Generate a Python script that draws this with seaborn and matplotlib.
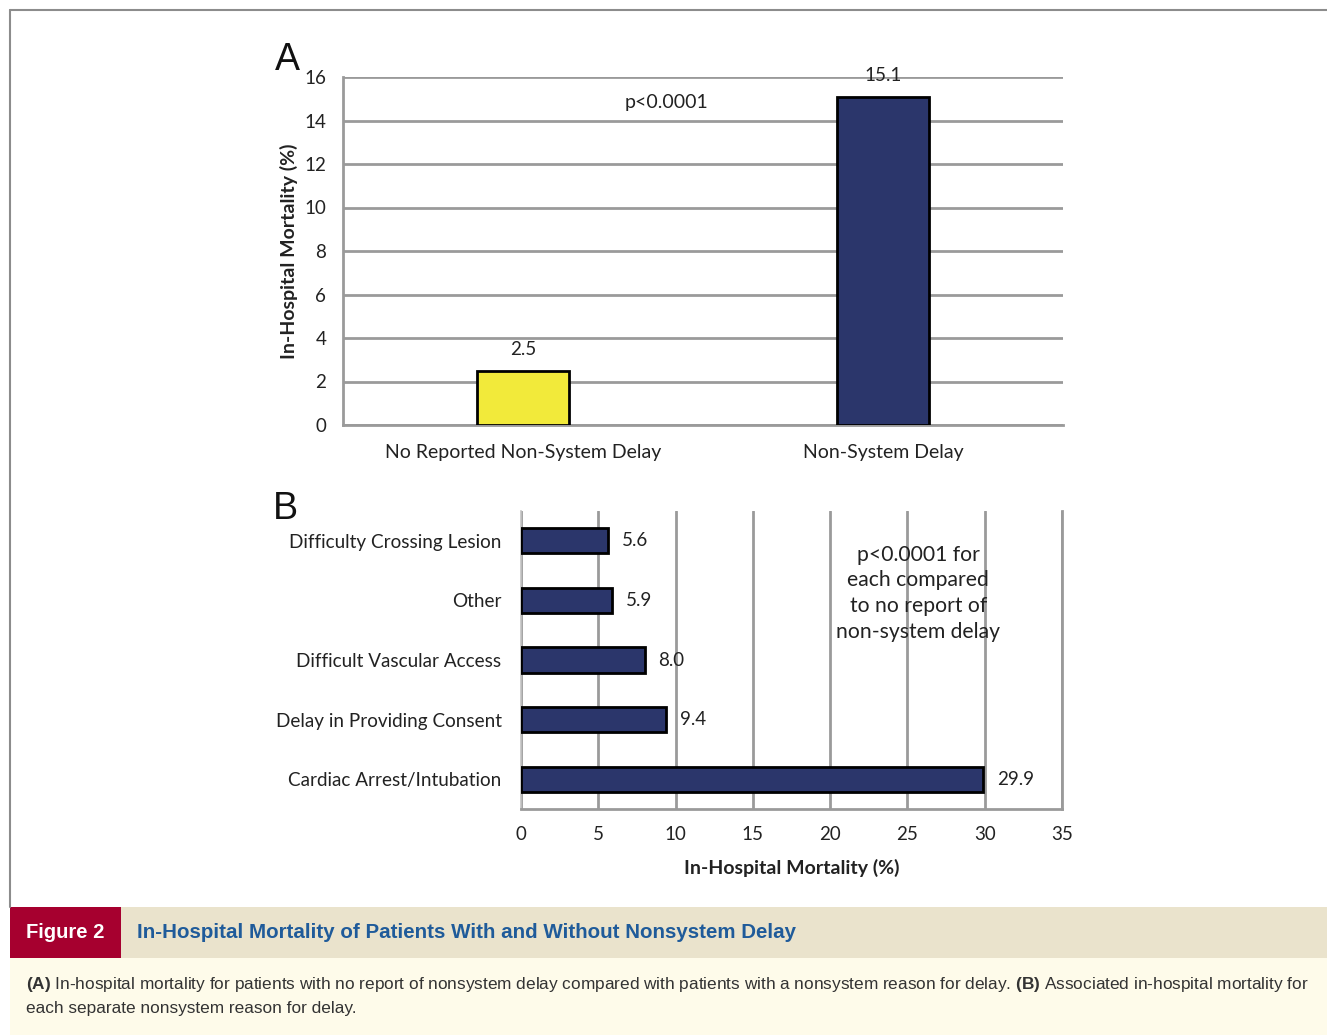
import matplotlib
matplotlib.use("Agg")
import matplotlib.pyplot as plt
import seaborn as sns
import pandas as pd
import numpy as np
from matplotlib.patches import Rectangle
from matplotlib.lines import Line2D

# ---- data ----
cats_a = ["No Reported Non-System Delay", "Non-System Delay"]
vals_a = [2.5, 15.1]
cats_b = ["Difficulty Crossing Lesion", "Other", "Difficult Vascular Access",
          "Delay in Providing Consent", "Cardiac Arrest/Intubation"]
vals_b = [5.6, 5.9, 8.0, 9.4, 29.9]
yticks_a = [0, 2, 4, 6, 8, 10, 12, 14, 16]
xticks_b = [0, 5, 10, 15, 20, 25, 30, 35]

YELLOW = "#F2EA3A"
NAVY = "#2B366B"
GRID = "#9A9A9A"

sns.set_style("white")
plt.rcParams["font.family"] = ["Lato", "DejaVu Sans"]
plt.rcParams["mathtext.fontset"] = "custom"
plt.rcParams["mathtext.rm"] = "Liberation Sans"
plt.rcParams["mathtext.bf"] = "Liberation Sans:bold"

W, H = 1327, 1035
fig = plt.figure(figsize=(W / 100, H / 100), dpi=100)
fig.patch.set_facecolor("white")

def fx(px):
    return px / W

def fy(py):
    return 1 - py / H

# ---- Panel A ----
axA = fig.add_axes([fx(343), fy(425), fx(1063) - fx(343), fy(77) - fy(425)])
dfa = pd.DataFrame({"cat": cats_a, "val": vals_a})
sns.barplot(data=dfa, x="cat", y="val", hue="cat", palette=[YELLOW, NAVY],
            legend=False, width=0.255, saturation=1, edgecolor="black",
            linewidth=2, ax=axA, zorder=3)
axA.set_ylim(0, 16)
axA.set_xlim(-0.5, 1.5)
axA.set_yticks(yticks_a)
axA.set_yticklabels([str(v) for v in yticks_a], fontsize=13.5, color="#222222")
axA.yaxis.grid(True, color=GRID, lw=2)
axA.set_axisbelow(True)
for s in ["top", "right"]:
    axA.spines[s].set_visible(False)
axA.spines["left"].set_color(GRID)
axA.spines["left"].set_linewidth(2)
axA.spines["bottom"].set_color(GRID)
axA.spines["bottom"].set_linewidth(2)
axA.tick_params(axis="y", length=6, width=2, color=GRID, pad=6)
axA.tick_params(axis="x", length=0, pad=14, labelsize=14, labelcolor="#222222")
axA.set_xlabel("")
axA.set_ylabel("In-Hospital Mortality (%)", fontsize=14, fontweight="bold",
               color="#222222", labelpad=5)
for c in axA.containers:
    axA.bar_label(c, fmt="%.1f", padding=9, fontsize=13.5, color="#222222")
axA.text(0.4, 14.85, "p<0.0001", ha="center", va="center", fontsize=14,
         color="#222222")
fig.text(fx(287), fy(60), "A", ha="center", va="center", fontsize=27,
         family=["Liberation Sans", "DejaVu Sans"], color="#111111")

# ---- Panel B ----
axB = fig.add_axes([fx(521), fy(809), fx(1062) - fx(521), fy(511) - fy(809)])
dfb = pd.DataFrame({"cat": cats_b, "val": vals_b})
sns.barplot(data=dfb, y="cat", x="val", orient="h", color=NAVY, saturation=1,
            width=0.42, edgecolor="black", linewidth=2, ax=axB, zorder=3)
axB.set_xlim(0, 35)
axB.set_ylim(4.5, -0.5)
axB.set_xticks(xticks_b)
axB.set_xticklabels([str(v) for v in xticks_b], fontsize=13.5, color="#222222")
axB.xaxis.grid(True, color=GRID, lw=2)
axB.set_axisbelow(True)
axB.spines["top"].set_visible(False)
axB.spines["right"].set_color(GRID)
axB.spines["right"].set_linewidth(2)
axB.spines["left"].set_color("#C4C4C4")
axB.spines["left"].set_linewidth(1.2)
axB.spines["bottom"].set_color(GRID)
axB.spines["bottom"].set_linewidth(2)
axB.tick_params(axis="x", length=6, width=2, color=GRID, pad=6)
axB.tick_params(axis="y", which="major", length=0, pad=14, labelsize=13.6,
                labelcolor="#222222")
axB.set_yticks(np.arange(-0.5, 5.0, 1.0), minor=True)
axB.tick_params(axis="y", which="minor", length=5, width=1.2, color="#9A9A9A")
axB.set_ylabel("")
axB.set_xlabel("In-Hospital Mortality (%)", fontsize=14, fontweight="bold",
               color="#222222", labelpad=12)
for c in axB.containers:
    axB.bar_label(c, fmt="%.1f", padding=10, fontsize=13.5, color="#222222")
axB.text(25.7, 0.88, "p<0.0001 for\neach compared\nto no report of\nnon-system delay",
         ha="center", va="center", fontsize=15.2, color="#222222", linespacing=1.35)
fig.text(fx(285), fy(509), "B", ha="center", va="center", fontsize=27,
         family=["Liberation Sans", "DejaVu Sans"], color="#111111")

# ---- frame ----
fig.add_artist(Line2D([fx(10), 1.0], [fy(10), fy(10)], color="#8C8C8C", lw=1.5))
fig.add_artist(Line2D([fx(10), fx(10)], [fy(10), fy(907)], color="#8C8C8C", lw=1.5))

# ---- caption band ----
fig.add_artist(Rectangle((fx(10), fy(958)), 1 - fx(10), fy(907) - fy(958),
                         facecolor="#EAE3CC", edgecolor="none"))
fig.add_artist(Rectangle((fx(10), fy(958)), fx(121) - fx(10), fy(907) - fy(958),
                         facecolor="#A6002F", edgecolor="none"))
fig.add_artist(Rectangle((fx(10), 0), 1 - fx(10), fy(958),
                         facecolor="#FEFBEA", edgecolor="none"))
cap_font = ["Liberation Sans", "DejaVu Sans"]
fig.text(fx(26), fy(933), "Figure 2", ha="left", va="center", fontsize=14.5,
         fontweight="bold", color="white", family=cap_font)
fig.text(fx(137), fy(933),
         "In-Hospital Mortality of Patients With and Without Nonsystem Delay",
         ha="left", va="center", fontsize=14.75, fontweight="bold",
         color="#1F5B9A", family=cap_font)
fig.text(fx(26), fy(985),
         r"$\bf{(A)}$ In-hospital mortality for patients with no report of nonsystem delay "
         r"compared with patients with a nonsystem reason for delay. $\bf{(B)}$ Associated "
         r"in-hospital mortality for",
         ha="left", va="center", fontsize=12.4, color="#333333", family=cap_font)
fig.text(fx(26), fy(1009), "each separate nonsystem reason for delay.",
         ha="left", va="center", fontsize=12.4, color="#333333", family=cap_font)

fig.savefig("out.png", dpi=100)
